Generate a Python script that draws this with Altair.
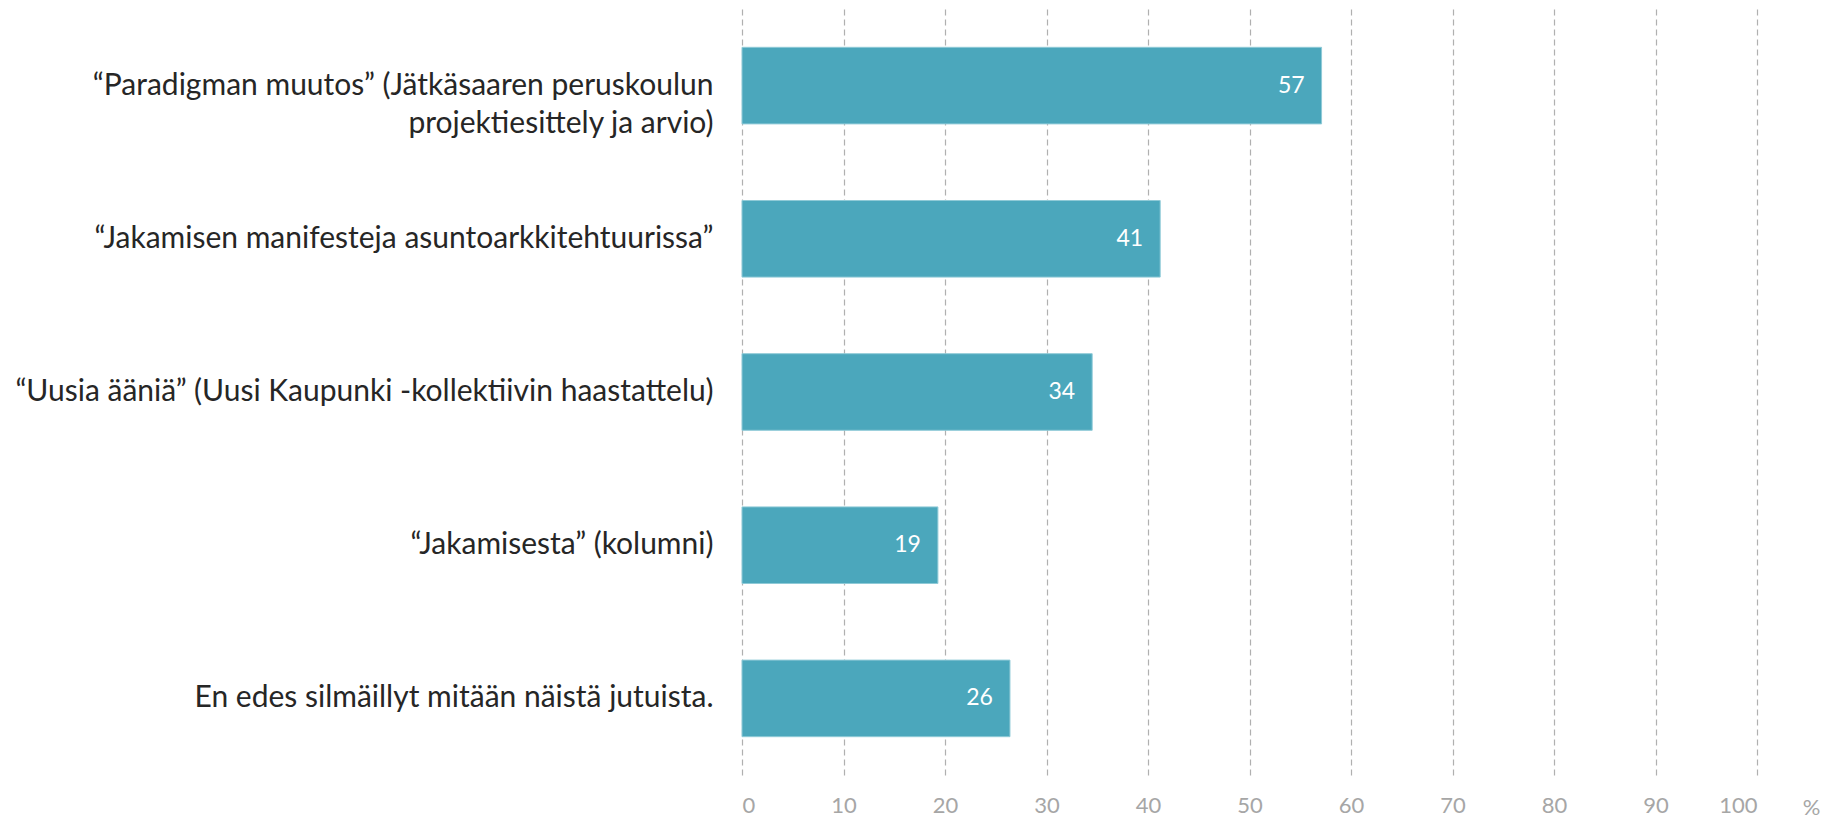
import altair as alt
import pandas as pd

categories = [
    "“Paradigman muutos” (Jätkäsaaren peruskoulun\nprojektiesittely ja arvio)",
    "“Jakamisen manifesteja asuntoarkkitehtuurissa”",
    "“Uusia ääniä” (Uusi Kaupunki -kollektiivin haastattelu)",
    "“Jakamisesta” (kolumni)",
    "En edes silmäillyt mitään näistä jutuista.",
]
values = [57.1, 41.2, 34.5, 19.3, 26.4]
labels = ["57", "41", "34", "19", "26"]
x_ticks = [0, 10, 20, 30, 40, 50, 60, 70, 80, 90, 100]

df = pd.DataFrame({"cat": categories, "value": values, "label": labels})

FONT = "Lato"
BAR = "#4BA7BC"

y_enc = alt.Y(
    "cat:N",
    sort=None,
    scale=alt.Scale(paddingInner=0.5, paddingOuter=0.25),
    axis=alt.Axis(
        title=None, domain=False, ticks=False, grid=False,
        labelFont=FONT, labelFontSize=30, labelColor="#262626",
        labelPadding=29, labelLimit=900, labelLineHeight=38,
        labelExpr="split(datum.label, '\\n')",
    ),
)

x_enc = alt.X(
    "value:Q",
    scale=alt.Scale(domain=[0, 100], nice=False),
    axis=alt.Axis(
        values=x_ticks, title="%", titleAngle=0, titleX=1069, titleY=32,
        titleFont=FONT, titleFontSize=22, titleFontWeight="normal",
        titleColor="#A6A6A6", titleBaseline="middle", titleAlign="center",
        domain=False, ticks=False, grid=True, gridDash=[6, 4],
        gridColor="#B0B0B0", gridWidth=1.2,
        labelFont=FONT, labelFontSize=22, labelColor="#A6A6A6",
        labelPadding=20,
    ),
)

bars = alt.Chart(df).mark_bar(color=BAR, stroke="#8FCAD7", strokeWidth=1).encode(
    x=x_enc, y=y_enc
)

text = alt.Chart(df).mark_text(
    align="right", baseline="middle", dx=-17, color="white",
    font=FONT, fontSize=23,
).encode(x=x_enc, y=y_enc, text="label:N")

chart = (
    (bars + text)
    .properties(
        width=1015, height=766,
        background="white",
        autosize=alt.AutoSizeParams(type="none"),
        padding={"left": 734, "top": 1, "right": 65, "bottom": 46},
    )
    .configure_view(strokeWidth=0, stroke="transparent")
    .configure_axis(domain=False)
)

chart.save("out.html", embed_options={"renderer": "svg", "actions": False})
